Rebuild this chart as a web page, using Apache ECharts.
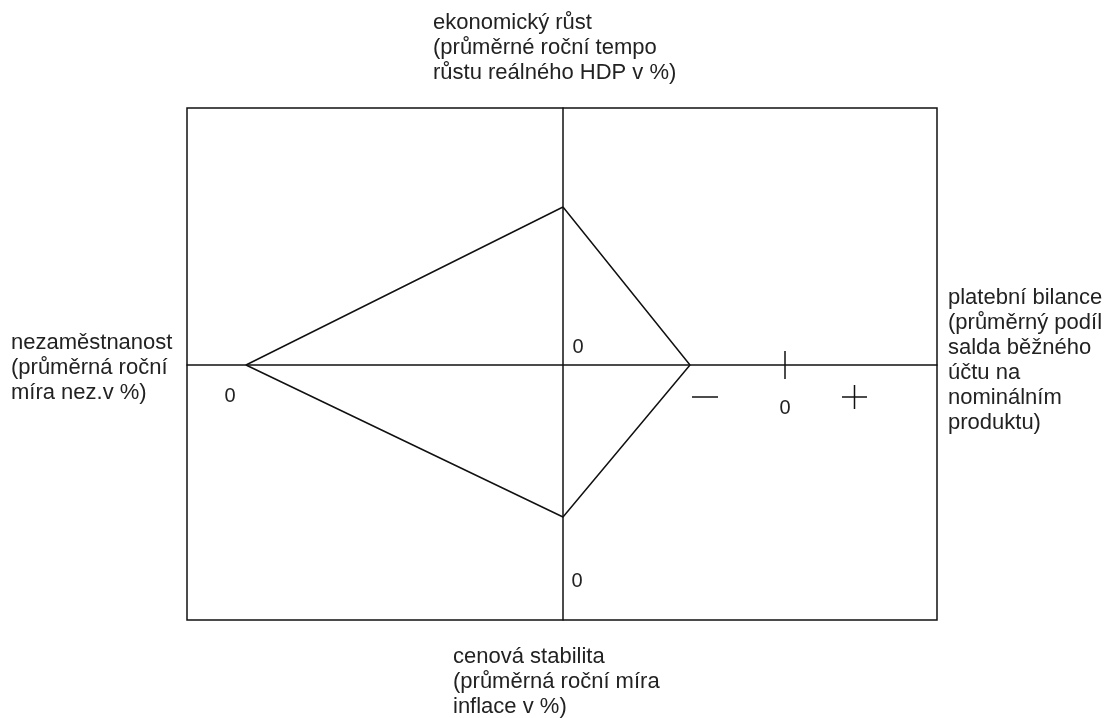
<!DOCTYPE html>
<html>
<head>
<meta charset="UTF-8">
<title>Magický čtyřúhelník</title>
<script src="https://cdn.jsdelivr.net/npm/echarts@6/dist/echarts.min.js"></script>
<style>html,body{margin:0;padding:0;background:#fff;}</style>
</head>
<body>
<div id="chart" style="width:1109px;height:718px;"></div>
<script type="text/javascript">
// názvy os (horní, pravá, dolní, levá)
var titleGrowth = 'ekonomický růst\n(průměrné roční tempo\nrůstu reálného HDP v %)';
var titleBalance = 'platební bilance\n(průměrný podíl\nsalda běžného\núčtu na\nnominálním\nproduktu)';
var titlePrices = 'cenová stabilita\n(průměrná roční míra\ninflace v %)';
var titleUnemp = 'nezaměstnanost\n(průměrná roční\nmíra nez.v %)';

// vrcholy čtyřúhelníku: růst, bilance, inflace, nezaměstnanost, zpět na růst
var cornerX = [0, 12.7, 0, -31.7, 0];
var cornerY = [15.8, 0, -15.2, 0, 15.8];

// popisky nul na osách
var zeroX = [1.5, -33.3, 1.4, 22.2];
var zeroY = [1.8, -3.1, -21.6, -4.3];

// nula a znaménka na ose platební bilance
var balanceZero = 22.2;
var minusX = [12.9, 15.5];
var plusX = [27.9, 30.4];
var signY = -3.2;

var chart = echarts.init(document.getElementById('chart'));

var lineStyle = {color: '#111', width: 1.5};
function seg(points) {
    return {
        type: 'line',
        data: points,
        symbol: 'none',
        silent: true,
        lineStyle: lineStyle,
        animation: false
    };
}

var diamond = [];
for (var i = 0; i < cornerX.length; i++) {
    diamond.push([cornerX[i], cornerY[i]]);
}
var zeros = [];
for (var j = 0; j < zeroX.length; j++) {
    zeros.push([zeroX[j], zeroY[j]]);
}

var font = 'Liberation Sans, Arial, sans-serif';
var txt = {fontSize: 22, lineHeight: 25, fill: '#222', fontFamily: font};
function title(text, left, top) {
    return {type: 'text', left: left, top: top, style: Object.assign({text: text}, txt), silent: true};
}

chart.setOption({
    animation: false,
    grid: {left: 187, right: 172, top: 108, bottom: 98, show: true, borderColor: '#111', borderWidth: 1.5},
    xAxis: {
        type: 'value', min: -37.6, max: 37.4,
        axisLine: {onZero: true, lineStyle: lineStyle},
        axisTick: {show: false}, axisLabel: {show: false}, splitLine: {show: false}
    },
    yAxis: {
        type: 'value', min: -25.5, max: 25.7,
        axisLine: {onZero: true, lineStyle: lineStyle},
        axisTick: {show: false}, axisLabel: {show: false}, splitLine: {show: false}
    },
    series: [
        seg(diamond),
        seg([[balanceZero, 1.4], [balanceZero, -1.4]]),
        seg([[minusX[0], signY], [minusX[1], signY]]),
        seg([[plusX[0], signY], [plusX[1], signY]]),
        seg([[(plusX[0] + plusX[1]) / 2, signY + 1.2], [(plusX[0] + plusX[1]) / 2, signY - 1.2]]),
        {
            type: 'scatter',
            data: zeros,
            symbolSize: 1,
            itemStyle: {color: 'rgba(0,0,0,0)'},
            silent: true,
            label: {
                show: true, position: 'inside', formatter: '0',
                fontSize: 20, color: '#222', fontFamily: font,
                textBorderWidth: 0, opacity: 1
            }
        }
    ],
    graphic: [
        title(titleGrowth, 433, 10),
        title(titleBalance, 948, 285),
        title(titlePrices, 453, 644),
        title(titleUnemp, 11, 330)
    ]
});
</script>
</body>
</html>
